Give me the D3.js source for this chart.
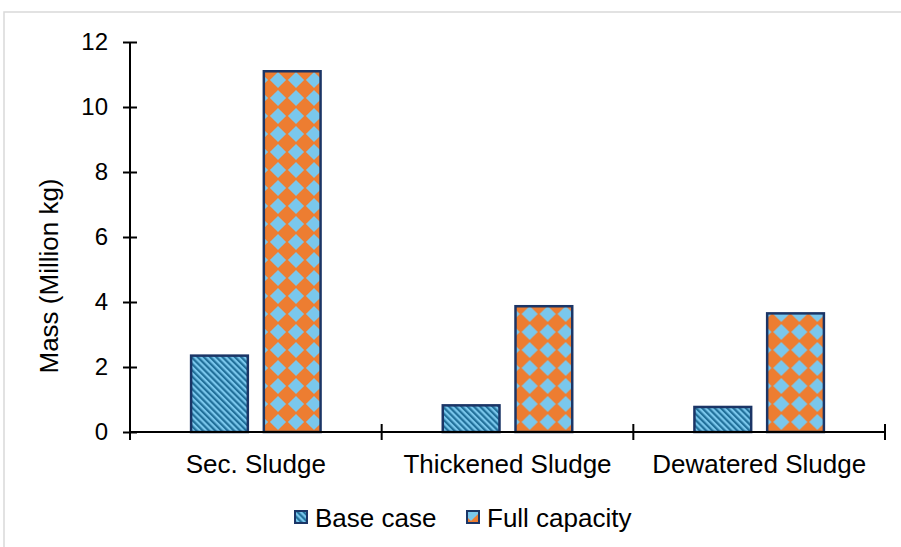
<!DOCTYPE html>
<html>
<head>
<meta charset="utf-8">
<script src="https://cdn.jsdelivr.net/npm/d3@7"></script>
<style>
  body { margin: 0; background: #fff; }
  svg { display: block; font-family: "Liberation Sans", Arial, sans-serif; }
</style>
</head>
<body>
<svg id="chart" width="901" height="547"></svg>
<script>
// chart values
const categories = ["Sec. Sludge", "Thickened Sludge", "Dewatered Sludge"];
const series = ["Base case", "Full capacity"];
const baseCase = [2.35, 0.82, 0.77];
const fullCapacity = [11.1, 3.87, 3.65];
const yTicks = [0, 2, 4, 6, 8, 10, 12];

const margin = { top: 42, right: 16, bottom: 115, left: 130 };
const width = 901 - margin.left - margin.right;
const height = 547 - margin.top - margin.bottom;

const svg = d3.select("#chart");

// patterns
const defs = svg.append("defs");
const stripes = defs.append("pattern")
  .attr("id", "stripes")
  .attr("patternUnits", "userSpaceOnUse")
  .attr("width", 4.4).attr("height", 4.4)
  .attr("patternTransform", "rotate(-45)");
stripes.append("rect").attr("width", 4.4).attr("height", 4.4).attr("fill", "#7ac7ec");
stripes.append("rect").attr("width", 2.2).attr("height", 4.4).attr("fill", "#21709a");

const tile = 18;
const diamonds = defs.append("pattern")
  .attr("id", "diamonds")
  .attr("patternUnits", "userSpaceOnUse")
  .attr("x", 4).attr("y", 2)
  .attr("width", tile).attr("height", tile);
diamonds.append("rect").attr("width", tile).attr("height", tile).attr("fill", "#7ac7ec");
diamonds.append("path")
  .attr("d", `M${tile / 2},0 L${tile},${tile / 2} L${tile / 2},${tile} L0,${tile / 2} Z`)
  .attr("fill", "#ed7d31")
  .attr("transform", `translate(${tile / 2},${tile / 2}) scale(1.1) translate(${-tile / 2},${-tile / 2})`);

const fills = { "Base case": "url(#stripes)", "Full capacity": "url(#diamonds)" };

// outer border
svg.append("rect")
  .attr("x", 4).attr("y", 12)
  .attr("width", 910).attr("height", 560)
  .attr("fill", "none")
  .attr("stroke", "#d9d9d9")
  .attr("stroke-width", 1.5);

const g = svg.append("g").attr("transform", `translate(${margin.left},${margin.top})`);

const x0 = d3.scaleBand().domain(categories).range([0, width]);
const x1 = d3.scaleBand().domain(series).range([0, x0.bandwidth()])
  .paddingInner(0.22).paddingOuter(0.84);
const y = d3.scaleLinear().domain([0, 12]).range([height, 0]);

const data = categories.map((c, i) => ({ cat: c, vals: [
  { s: "Base case", v: baseCase[i] },
  { s: "Full capacity", v: fullCapacity[i] }
]}));

// bars
g.selectAll("g.cat").data(data).join("g")
  .attr("class", "cat")
  .attr("transform", d => `translate(${x0(d.cat)},0)`)
  .selectAll("rect").data(d => d.vals).join("rect")
  .attr("x", d => x1(d.s))
  .attr("y", d => y(d.v))
  .attr("width", x1.bandwidth())
  .attr("height", d => height - y(d.v))
  .attr("fill", d => fills[d.s])
  .attr("stroke", "#1b3566")
  .attr("stroke-width", 2.5);

// y axis
const yAxis = g.append("g")
  .call(d3.axisLeft(y).tickValues(yTicks).tickSize(7).tickPadding(15));
yAxis.select(".domain").attr("stroke", "#000").attr("stroke-width", 2).attr("d", `M0,0V${height}`);
yAxis.selectAll(".tick line").attr("x1", 7).attr("x2", -7).attr("stroke-width", 2);
yAxis.selectAll(".tick text").attr("font-size", 24).attr("fill", "#000")
  .attr("font-family", "Liberation Sans, Arial, sans-serif");

// x axis
const xAxis = g.append("g").attr("transform", `translate(0,${height})`)
  .call(d3.axisBottom(x0).tickSize(0).tickPadding(23));
xAxis.select(".domain").attr("stroke", "#000").attr("stroke-width", 2).attr("d", `M0,0H${width}`);
xAxis.selectAll(".tick text").attr("font-size", 26).attr("fill", "#000")
  .attr("font-family", "Liberation Sans, Arial, sans-serif");
const bounds = categories.map(c => x0(c)).concat([width]);
xAxis.selectAll("line.bound").data(bounds).join("line")
  .attr("class", "bound")
  .attr("x1", d => d).attr("x2", d => d)
  .attr("y1", -8).attr("y2", 8)
  .attr("stroke", "#000").attr("stroke-width", 2);

// y title
svg.append("text")
  .attr("transform", "translate(58,276) rotate(-90)")
  .attr("text-anchor", "middle")
  .attr("font-size", 26)
  .text("Mass (Million kg)");

// legend
const legendItems = [
  { s: "Base case", x: 295 },
  { s: "Full capacity", x: 467 }
];
const lg = svg.append("g").attr("transform", "translate(0,511)");
const li = lg.selectAll("g").data(legendItems).join("g")
  .attr("transform", d => `translate(${d.x},0)`);
li.append("rect")
  .attr("width", 12).attr("height", 12)
  .attr("fill", d => fills[d.s])
  .attr("stroke", "#1b3566").attr("stroke-width", 2);
li.append("text")
  .attr("x", 20).attr("y", 16)
  .attr("font-size", 26)
  .text(d => d.s);
</script>
</body>
</html>
